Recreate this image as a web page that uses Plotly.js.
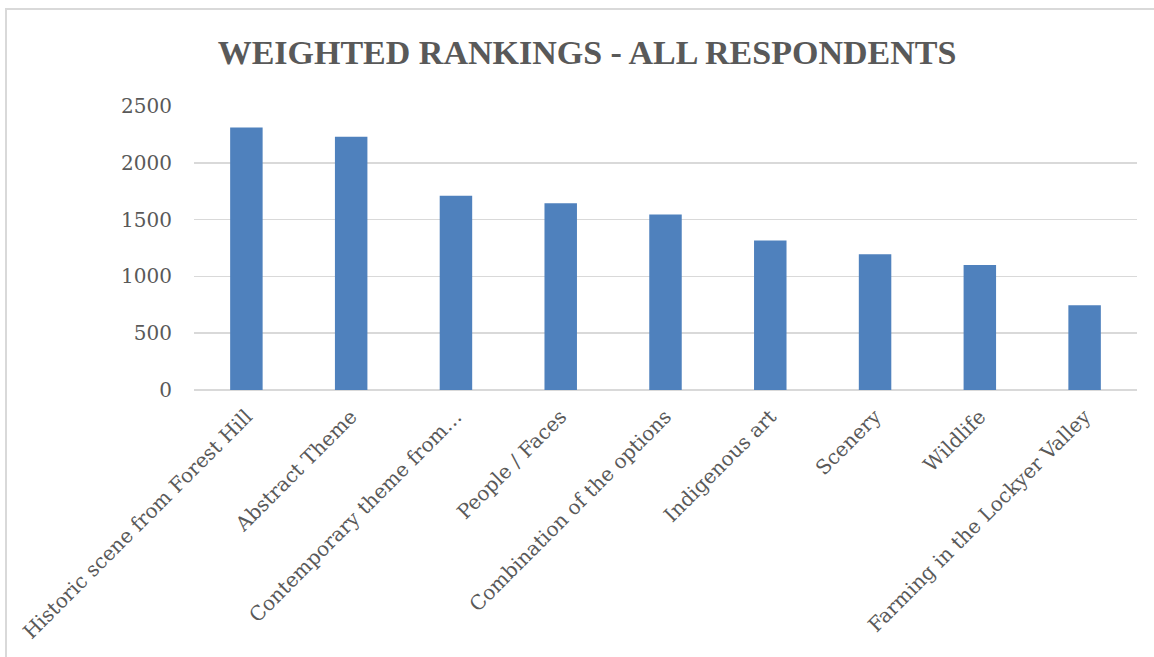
<!DOCTYPE html>
<html>
<head>
<meta charset="utf-8">
<script src="https://cdn.plot.ly/plotly-3.0.1.min.js"></script>
<style>
  html, body { margin: 0; padding: 0; background: #ffffff; overflow: hidden; }
  #chart { position: absolute; left: 0; top: 0; width: 1154px; height: 657px; }
  #frame { position: absolute; left: 5px; top: 8px; width: 1200px; height: 700px;
           border-left: 2px solid #d9d9d9; border-top: 2px solid #d9d9d9; pointer-events: none; }
</style>
</head>
<body>
<div id="chart"></div>
<div id="frame"></div>
<script>
const categories = [
  "Historic scene from Forest Hill",
  "Abstract Theme",
  "Contemporary theme from…",
  "People / Faces",
  "Combination of the options",
  "Indigenous art",
  "Scenery",
  "Wildlife",
  "Farming in the Lockyer Valley"
];
const values = [2310, 2230, 1710, 1645, 1545, 1315, 1195, 1100, 745];
const yTicks = [0, 500, 1000, 1500, 2000, 2500];
const chartTitle = "WEIGHTED RANKINGS - ALL RESPONDENTS";

const titleFont = "Liberation Serif, DejaVu Serif, serif";
const tickFont = "DejaVu Serif, Liberation Serif, serif";

const data = [{
  type: "bar",
  x: categories,
  y: values,
  marker: { color: "#4f81bd", line: { width: 0 } },
  hoverinfo: "x+y"
}];

const layout = {
  width: 1154,
  height: 657,
  margin: { l: 194, r: 17, t: 106, b: 267 },
  paper_bgcolor: "#ffffff",
  plot_bgcolor: "#ffffff",
  bargap: 0.69,
  showlegend: false,
  title: {
    text: "<b>" + chartTitle + "</b>",
    font: { family: titleFont, size: 34, color: "#595959" },
    x: 587 / 1154, xref: "container", xanchor: "center",
    y: 1 - 52 / 657, yref: "container", yanchor: "middle"
  },
  xaxis: {
    type: "category",
    tickangle: -45,
    tickfont: { family: tickFont, size: 20, color: "#595959" },
    ticks: "outside", ticklen: 6, tickcolor: "rgba(0,0,0,0)",
    showgrid: false, showline: false, zeroline: false,
    automargin: false
  },
  yaxis: {
    range: [0, 2500],
    tickvals: yTicks,
    ticktext: yTicks.map(String),
    tickfont: { family: tickFont, size: 20, color: "#595959" },
    ticks: "outside", ticklen: 17, tickcolor: "rgba(0,0,0,0)",
    showgrid: true, gridcolor: "#d9d9d9", gridwidth: 1.5,
    zeroline: true, zerolinecolor: "#d9d9d9", zerolinewidth: 1.5,
    showline: false,
    automargin: false
  }
};

Plotly.newPlot("chart", data, layout, { displayModeBar: false, staticPlot: true });
</script>
</body>
</html>
